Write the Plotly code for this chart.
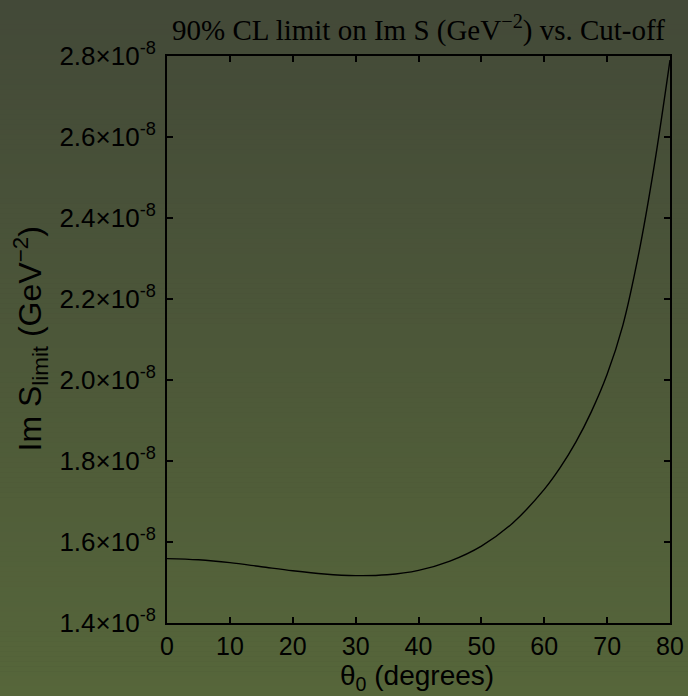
import plotly.graph_objects as go

# Data (theta in degrees, limit in units of 1e-8 GeV^-2)
theta_deg = [0, 5, 10, 15, 20, 25, 30, 35, 40, 45, 50, 55, 60, 62.5, 65, 67.5, 70, 72.5, 75, 77.5, 80]
im_s_limit_e8 = [1.559, 1.556, 1.549, 1.539, 1.529, 1.521, 1.517, 1.519, 1.530, 1.553, 1.590,
                 1.647, 1.730, 1.783, 1.846, 1.922, 2.014, 2.135, 2.310, 2.530, 2.790]

x_ticks = [0, 10, 20, 30, 40, 50, 60, 70, 80]
y_tick_mantissa = [1.4, 1.6, 1.8, 2.0, 2.2, 2.4, 2.6, 2.8]
y_tick_labels = [f"{m:.1f}×10<sup>-8</sup>" for m in y_tick_mantissa]

y_vals = [v * 1e-8 for v in im_s_limit_e8]
y_tickvals = [m * 1e-8 for m in y_tick_mantissa]

W, H = 688, 696
ml, mr, mt, mb = 167, 18, 56, 73

fig = go.Figure()
fig.add_trace(go.Scatter(
    x=theta_deg, y=y_vals, mode="lines",
    line=dict(color="black", width=1.4, shape="spline", smoothing=1.0),
    hoverinfo="skip", showlegend=False,
))

# background vertical gradient via thin bands (paper coords covering full canvas)
top = (67, 73, 56)
bot = (86, 102, 58)
pw = W - ml - mr
ph = H - mt - mb
n = 140
shapes = []
for i in range(n):
    f0 = i / n
    f1 = (i + 1) / n
    fm = (f0 + f1) / 2
    c = tuple(round(top[k] + (bot[k] - top[k]) * fm) for k in range(3))
    y0px = f0 * H
    y1px = f1 * H + 0.5
    yp0 = (H - mb - y0px) / ph
    yp1 = (H - mb - y1px) / ph
    shapes.append(dict(
        type="rect", xref="paper", yref="paper",
        x0=-ml / pw - 0.01, x1=1 + mr / pw + 0.01, y0=yp1, y1=yp0,
        fillcolor=f"rgb{c}", line=dict(width=0), layer="below",
    ))

tick_font = dict(family="Liberation Sans Narrow, Liberation Sans, Arial", size=26, color="black")
xtick_font = dict(family="Liberation Sans Narrow, Liberation Sans, Arial", size=25, color="black")

fig.update_layout(
    width=W, height=H,
    margin=dict(l=ml, r=mr, t=mt, b=mb, autoexpand=False),
    paper_bgcolor=f"rgb{top}",
    plot_bgcolor="rgba(0,0,0,0)",
    shapes=shapes,
    showlegend=False,
    xaxis=dict(
        range=[0, 80], tickvals=x_ticks, ticktext=[str(t) for t in x_ticks],
        ticks="inside", ticklen=6, tickwidth=2, tickcolor="black",
        showline=True, linewidth=2, linecolor="black", mirror="ticks",
        showgrid=False, zeroline=False, tickfont=xtick_font, automargin=False,
        ticklabelstandoff=0,
    ),
    yaxis=dict(
        range=[1.4e-8, 2.8e-8], tickvals=y_tickvals, ticktext=y_tick_labels,
        ticks="inside", ticklen=6, tickwidth=2, tickcolor="black",
        showline=True, linewidth=2, linecolor="black", mirror="ticks",
        showgrid=False, zeroline=False, tickfont=tick_font, automargin=False,
        ticklabelstandoff=4,
    ),
    annotations=[
        dict(text="90% CL limit on Im S (GeV<sup>−2</sup>) vs. Cut-off",
             xref="paper", yref="paper", x=0.5, y=1, xanchor="center", yanchor="bottom",
             yshift=7, showarrow=False,
             font=dict(family="Liberation Serif, Times New Roman", size=29, color="black")),
        dict(text="θ<sub>0</sub> (degrees)",
             xref="paper", yref="paper", x=0.497, y=0, xanchor="center", yanchor="top",
             yshift=-36, showarrow=False, borderpad=0,
             font=dict(family="Liberation Sans Narrow, Liberation Sans, Arial", size=28, color="black")),
        dict(text="Im S<sub>limit</sub> (GeV<sup>−2</sup>)",
             xref="paper", yref="paper", x=0, y=0.5, xanchor="center", yanchor="middle",
             xshift=-(ml - 30), textangle=-90, showarrow=False,
             font=dict(family="Liberation Sans, Arial", size=32, color="black")),
    ],
)

fig.write_html("out.html", config={"displayModeBar": False},
               post_script="document.body.style.margin='0';document.body.style.overflow='hidden';")
